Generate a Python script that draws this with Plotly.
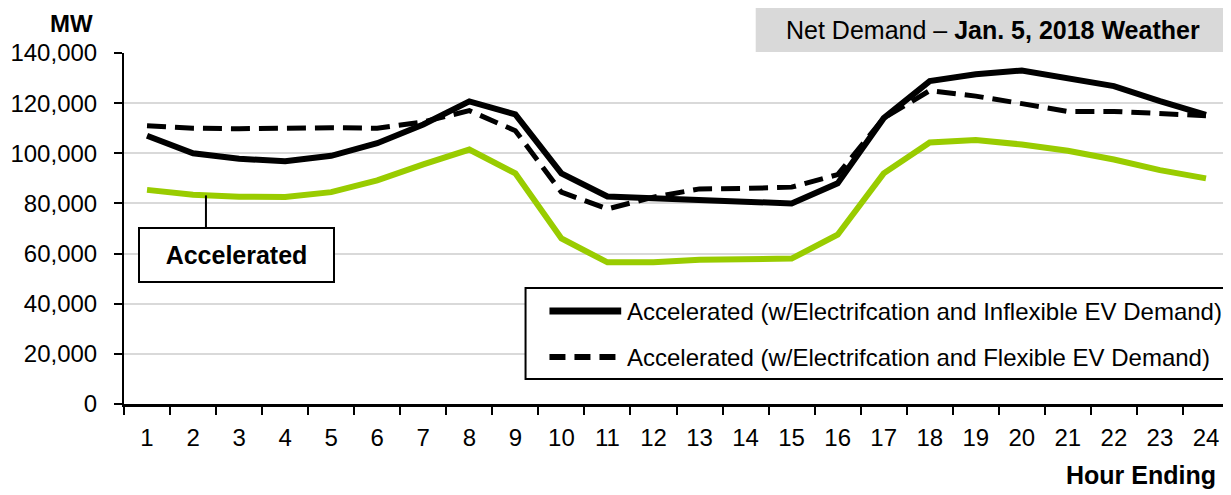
import plotly.graph_objects as go

hours = [str(h) for h in range(1, 25)]

inflexible = [107000, 100000, 97800, 96800, 99000, 104000, 111500, 120700, 115500, 92000,
              82800, 82000, 81000, 80200, 80000, 88000, 114000, 128800, 131500, 133000,
              130200, 126800, 120800, 115300]
flexible = [111000, 110000, 109800, 110200, 110200, 110000, 112500, 117000, 109000, 84500,
            77800, 82500, 85800, 86000, 86500, 91500, 114000, 125000, 122800, 119800,
            116700, 116700, 116000, 115000]
base = [85400, 83500, 82700, 82600, 84500, 89200, 95600, 101500, 92000, 66000,
        56500, 56500, 57500, 57500, 58000, 67500, 92000, 104300, 105300, 103500,
        101000, 97500, 93300, 90000]

yticks = [0, 20000, 40000, 60000, 80000, 100000, 120000, 140000]

legend_names = ["Accelerated (w/Electrifcation and Inflexible EV Demand)",
                "Accelerated (w/Electrifcation and Flexible EV Demand)"]

FONT = "Liberation Sans, Arial, sans-serif"
GREEN = "#99CC00"

fig = go.Figure()
fig.add_trace(go.Scatter(x=hours, y=base, mode="lines", name="Accelerated",
                         line=dict(color=GREEN, width=6), showlegend=False))
fig.add_trace(go.Scatter(x=hours, y=inflexible, mode="lines", name=legend_names[0],
                         line=dict(color="black", width=6), showlegend=False))
fig.add_trace(go.Scatter(x=hours, y=flexible, mode="lines", name=legend_names[1],
                         line=dict(color="black", width=5, dash="19px,9px"), showlegend=False))

# the page body adds an 8px offset; size the figure so the plot lands at the target spot
OFF = 8
W, H = 1231 - OFF, 495 - OFF
L, R, T, B = 120 - OFF, 2, 53 - OFF, 91
pw, ph = W - L - R, H - T - B
PLOT_LEFT_PAGE = 120
PLOT_BOTTOM_PAGE = 404

def px(x):
    return (x - PLOT_LEFT_PAGE) / pw

def py(y):
    return (PLOT_BOTTOM_PAGE - y) / ph

shapes = []
annotations = []

# title box
shapes.append(dict(type="rect", xref="paper", yref="paper", x0=px(754), x1=px(1229),
                   y0=py(52), y1=py(5), fillcolor="#D9D9D9", line=dict(width=0), layer="below"))
annotations.append(dict(xref="paper", yref="paper", x=px(992), y=py(30), xanchor="center",
                        yanchor="middle", showarrow=False,
                        text="Net Demand \u2013 <b>Jan. 5, 2018 Weather</b>",
                        font=dict(family=FONT, size=25, color="black")))

# axis titles
annotations.append(dict(xref="paper", yref="paper", x=px(67), y=py(8.5), xanchor="center",
                        yanchor="top", showarrow=False, text="<b>MW</b>",
                        font=dict(family=FONT, size=24, color="black")))
annotations.append(dict(xref="paper", yref="paper", x=px(1218), y=py(475), xanchor="right",
                        yanchor="middle", showarrow=False, text="<b>Hour Ending</b>",
                        font=dict(family=FONT, size=25, color="black")))

# series label box with leader line
shapes.append(dict(type="line", xref="x", yref="y", x0=1.28, x1=1.28, y0=83200, y1=70600,
                   line=dict(color="black", width=2)))
annotations.append(dict(xref="paper", yref="paper", x=px(233), y=py(255), xanchor="center",
                        yanchor="middle", showarrow=False, text="<b>Accelerated</b>",
                        width=193, height=52, borderpad=0, borderwidth=2, bordercolor="black",
                        bgcolor="white", font=dict(family=FONT, size=25, color="black")))

# legend
shapes.append(dict(type="rect", xref="paper", yref="paper", x0=px(523), x1=px(1232),
                   y0=py(379), y1=py(288), fillcolor="white", line=dict(color="black", width=2)))
shapes.append(dict(type="line", xref="paper", yref="paper", x0=px(547), x1=px(619),
                   y0=py(311), y1=py(311), line=dict(color="black", width=7)))
shapes.append(dict(type="line", xref="paper", yref="paper", x0=px(547), x1=px(619),
                   y0=py(357), y1=py(357), line=dict(color="black", width=6, dash="16px,9px")))
for name, yy in zip(legend_names, [311, 357]):
    annotations.append(dict(xref="paper", yref="paper", x=px(623), y=py(yy), xanchor="left",
                            yanchor="middle", showarrow=False, text=name,
                            font=dict(family=FONT, size=24, color="black")))

fig.update_layout(
    width=W, height=H,
    margin=dict(l=L, r=R, t=T, b=B, pad=0),
    paper_bgcolor="white", plot_bgcolor="white",
    font=dict(family=FONT, size=24, color="black"),
    showlegend=False,
    shapes=shapes, annotations=annotations,
    xaxis=dict(type="category", range=[-0.5, 23.5], showgrid=False, showline=True,
               linecolor="black", linewidth=2.5, ticks="outside", ticklen=8, tickwidth=2,
               tickcolor="black", tickson="boundaries", ticklabelstandoff=10,
               tickfont=dict(family=FONT, size=24, color="black"), zeroline=False),
    yaxis=dict(range=[0, 140000], tickvals=yticks, tickformat=",d", showgrid=True,
               gridcolor="#D9D9D9", gridwidth=1.5, showline=True, linecolor="black",
               linewidth=2, ticks="outside", ticklen=8, tickwidth=2, tickcolor="black",
               ticklabelstandoff=12, zeroline=False,
               tickfont=dict(family=FONT, size=24, color="black")),
)

fig.write_html("out.html")
